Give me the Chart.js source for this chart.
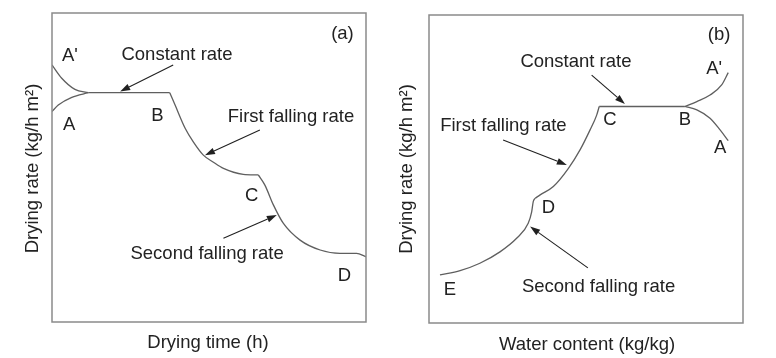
<!DOCTYPE html>
<html>
<head>
<meta charset="utf-8">
<script src="https://cdn.jsdelivr.net/npm/chart.js@4/dist/chart.umd.min.js"></script>
<style>
  html, body { margin: 0; padding: 0; background: #ffffff; }
  #wrap { position: relative; width: 776px; height: 358px; overflow: hidden; }
  canvas { position: absolute; top: 0; }
  #cA { left: 0; }
  #cB { left: 390px; }
</style>
</head>
<body>
<div id="wrap">
  <canvas id="cA" width="390" height="358"></canvas>
  <canvas id="cB" width="386" height="358"></canvas>
</div>
<script>
// ---------- DATA (relative units, 0-100 on both axes) ----------
// Panel (a): drying rate vs drying time
const aPrimeCurveA = [[0, 83.2], [3.1, 78.9], [7.3, 75.3], [11.6, 74.2]];
const aCurveA      = [[0, 68.1], [2.0, 70.2], [6.3, 72.7], [11.6, 74.2]];
const constantA    = [[11.6, 74.2], [37.5, 74.2]];
const firstFallA   = [[37.5, 74.2], [39.2, 70.2], [42.4, 62.7], [45.0, 58.3], [48.2, 54.0], [51.4, 51.7], [54.6, 49.7], [60.9, 47.8], [65.7, 47.6]];
const secondFallA  = [[65.7, 47.6], [67.8, 44.3], [70.5, 37.9], [73.7, 31.9], [79.0, 26.5], [85.4, 23.3], [91.7, 22.2], [97.0, 22.2], [100, 21.1]];

// Panel (b): drying rate vs water content
const secondFallB  = [[3.5, 15.6], [9.9, 17.0], [16.2, 19.4], [22.6, 23.1], [27.9, 27.5], [31.6, 32.4], [32.7, 36.1], [33.2, 39.4], [33.8, 40.5]];
const firstFallB   = [[33.8, 40.5], [35.4, 41.6], [39.6, 44.3], [44.4, 50.2], [48.1, 56.2], [51.3, 62.7], [53.4, 67.5], [54.2, 70.3]];
const constantB    = [[54.2, 70.3], [81.5, 70.3]];
const aPrimeCurveB = [[81.5, 70.3], [85.3, 71.9], [89.5, 74.0], [93.2, 77.3], [95.3, 81.3]];
const aCurveB      = [[81.5, 70.3], [85.3, 69.2], [89.5, 66.5], [92.7, 62.7], [95.3, 59.2]];

// Text
const panelTags   = ['(a)', '(b)'];
const xTitles     = ['Drying time (h)', 'Water content (kg/kg)'];
const yTitle      = 'Drying rate (kg/h m\u00B2)';
const phaseNames  = ['Constant rate', 'First falling rate', 'Second falling rate'];
const pointNamesA = ["A'", 'A', 'B', 'C', 'D'];
const pointNamesB = ["A'", 'A', 'B', 'C', 'D', 'E'];

// ---------- annotation placement (data coordinates) ----------
const labelSpotsA = [
  { t: panelTags[0],   x: 92.5, y: 93.6 },
  { t: pointNamesA[0], x: 5.7,  y: 86.7 },
  { t: pointNamesA[1], x: 5.5,  y: 64.3 },
  { t: pointNamesA[2], x: 33.6, y: 67.3 },
  { t: pointNamesA[3], x: 63.6, y: 41.2 },
  { t: pointNamesA[4], x: 93.1, y: 15.5 },
  { t: phaseNames[0],  x: 39.8, y: 87.0 },
  { t: phaseNames[1],  x: 76.1, y: 67.0 },
  { t: phaseNames[2],  x: 49.4, y: 22.4 }
];
const arrowSpotsA = [
  { x1: 38.6, y1: 83.2, x2: 21.7, y2: 74.6 },
  { x1: 66.2, y1: 62.1, x2: 48.7, y2: 54.0 },
  { x1: 54.6, y1: 27.1, x2: 71.6, y2: 34.6 }
];
const labelSpotsB = [
  { t: panelTags[1],   x: 92.4, y: 94.1 },
  { t: pointNamesB[0], x: 90.8, y: 83.0 },
  { t: pointNamesB[1], x: 92.7, y: 57.2 },
  { t: pointNamesB[2], x: 81.5, y: 66.5 },
  { t: pointNamesB[3], x: 57.6, y: 66.5 },
  { t: pointNamesB[4], x: 38.0, y: 37.8 },
  { t: pointNamesB[5], x: 6.7,  y: 11.3 },
  { t: phaseNames[0],  x: 46.8, y: 85.4 },
  { t: phaseNames[1],  x: 23.7, y: 64.6 },
  { t: phaseNames[2],  x: 54.0, y: 12.2 }
];
const arrowSpotsB = [
  { x1: 51.8, y1: 80.5, x2: 62.4, y2: 71.1 },
  { x1: 23.6, y1: 59.4, x2: 43.9, y2: 51.3 },
  { x1: 50.6, y1: 17.9, x2: 32.2, y2: 31.3 }
];

// ---------- rendering ----------
const FONT = '18.5px "Liberation Sans", Arial, Helvetica, sans-serif';
const TEXT_COLOR = '#222222';
const CURVE_COLOR = '#5f5f5f';
const FRAME_COLOR = '#8a8a8a';
const CAP_HALF = 6.6;

const toXY = arr => arr.map(p => ({ x: p[0], y: p[1] }));

function seg(points) {
  return {
    data: toXY(points),
    borderColor: CURVE_COLOR,
    borderWidth: 1.3,
    pointRadius: 0,
    fill: false,
    cubicInterpolationMode: 'monotone'
  };
}

const sketchPlugin = {
  id: 'sketch',
  afterDraw(chart, args, opts) {
    const ctx = chart.ctx;
    const ca = chart.chartArea;
    const xs = chart.scales.x, ys = chart.scales.y;
    ctx.save();
    // frame
    ctx.strokeStyle = FRAME_COLOR;
    ctx.lineWidth = 1.5;
    ctx.strokeRect(ca.left, ca.top, ca.right - ca.left, ca.bottom - ca.top);
    // labels
    ctx.fillStyle = TEXT_COLOR;
    ctx.font = FONT;
    ctx.textAlign = 'center';
    ctx.textBaseline = 'alphabetic';
    (opts.labels || []).forEach(l => {
      ctx.fillText(l.t, xs.getPixelForValue(l.x), ys.getPixelForValue(l.y) + CAP_HALF);
    });
    // arrows
    ctx.strokeStyle = '#202020';
    ctx.fillStyle = '#202020';
    ctx.lineWidth = 1.1;
    (opts.arrows || []).forEach(a => {
      const x1 = xs.getPixelForValue(a.x1), y1 = ys.getPixelForValue(a.y1);
      const x2 = xs.getPixelForValue(a.x2), y2 = ys.getPixelForValue(a.y2);
      const ang = Math.atan2(y2 - y1, x2 - x1);
      const hl = 10, hw = 3.4;
      const bx = x2 - hl * Math.cos(ang), by = y2 - hl * Math.sin(ang);
      ctx.beginPath();
      ctx.moveTo(x1, y1);
      ctx.lineTo(bx, by);
      ctx.stroke();
      ctx.beginPath();
      ctx.moveTo(x2, y2);
      ctx.lineTo(bx + hw * Math.sin(ang), by - hw * Math.cos(ang));
      ctx.lineTo(bx - hw * Math.sin(ang), by + hw * Math.cos(ang));
      ctx.closePath();
      ctx.fill();
    });
    // axis titles
    ctx.fillStyle = TEXT_COLOR;
    ctx.fillText(opts.xTitle, (ca.left + ca.right) / 2 + opts.xTitleDx, opts.xTitleY + CAP_HALF);
    ctx.save();
    ctx.translate(opts.yTitleX + CAP_HALF, (ca.top + ca.bottom) / 2 + opts.yTitleDy);
    ctx.rotate(-Math.PI / 2);
    ctx.fillText(yTitle, 0, 0);
    ctx.restore();
    ctx.restore();
  }
};

function makeChart(id, datasets, pad, plug) {
  return new Chart(document.getElementById(id), {
    type: 'line',
    data: { datasets },
    options: {
      responsive: false,
      animation: false,
      devicePixelRatio: 1,
      layout: { padding: pad },
      scales: {
        x: { type: 'linear', min: 0, max: 100, display: false },
        y: { type: 'linear', min: 0, max: 100, display: false }
      },
      plugins: {
        legend: { display: false },
        tooltip: { enabled: false },
        sketch: plug
      }
    },
    plugins: [sketchPlugin]
  });
}

makeChart('cA',
  [seg(aPrimeCurveA), seg(aCurveA), seg(constantA), seg(firstFallA), seg(secondFallA)],
  { left: 52, right: 24, top: 13, bottom: 36 },
  { labels: labelSpotsA, arrows: arrowSpotsA, xTitle: xTitles[0], xTitleDx: -1, xTitleY: 341.7, yTitleX: 31, yTitleDy: 1 }
);

makeChart('cB',
  [seg(secondFallB), seg(firstFallB), seg(constantB), seg(aPrimeCurveB), seg(aCurveB)],
  { left: 39, right: 33, top: 15, bottom: 35 },
  { labels: labelSpotsB, arrows: arrowSpotsB, xTitle: xTitles[1], xTitleDx: 1, xTitleY: 343.3, yTitleX: 15, yTitleDy: 0 }
);
</script>
</body>
</html>
